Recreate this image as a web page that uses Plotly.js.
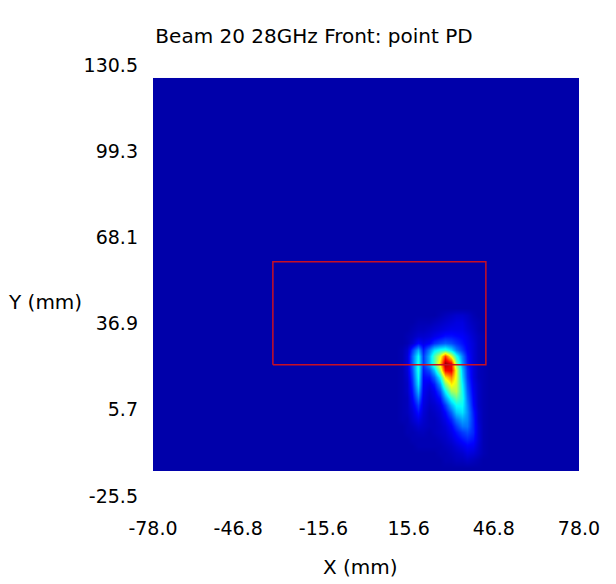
<!DOCTYPE html>
<html>
<head>
<meta charset="utf-8">
<script src="https://cdn.plot.ly/plotly-3.0.1.min.js"></script>
<style>html,body{margin:0;padding:0;background:#fff;}#chart{width:616px;height:584px;}</style>
</head>
<body>
<div id="chart"></div>
<script>
// ---- data ----
const xTickVals = [-78.0, -46.8, -15.6, 15.6, 46.8, 78.0];
const xTickText = ["-78.0", "-46.8", "-15.6", "15.6", "46.8", "78.0"];
const yTickVals = [-25.5, 5.7, 36.9, 68.1, 99.3, 130.5];
const yTickText = ["-25.5", "5.7", "36.9", "68.1", "99.3", "130.5"];

// heatmap grid (mm): outer columns/rows are background, inner ones cover the hot spot
const gridX = [-77.5, -76.5, 11, 13, 15, 17, 19, 21, 23, 25, 27, 29, 31, 33, 35, 37, 39, 41, 43, 45, 47, 76.5, 77.5];
const gridY = [-16.2, -15.4, -12.5, -10, -7.5, -5, -2.5, 0, 2.5, 5, 7.5, 10, 12.5, 15, 17.5, 20, 22.5, 25, 27.5, 30, 32.5, 35, 37.5, 40, 42.5, 125.2, 125.6];
const background = 0.03;
// hot spot values (normalised power density), rows y=-12.5 .. 40, columns x=13 .. 45
const hotRows = [
  [0.03,0.03,0.03,0.03,0.03,0.03,0.03,0.03,0.04,0.04,0.05,0.05,0.06,0.05,0.04,0.03,0.03],
  [0.03,0.03,0.03,0.03,0.03,0.03,0.03,0.04,0.04,0.05,0.06,0.07,0.09,0.08,0.06,0.04,0.03],
  [0.03,0.03,0.03,0.04,0.04,0.04,0.04,0.04,0.05,0.06,0.08,0.10,0.12,0.11,0.07,0.04,0.03],
  [0.03,0.03,0.04,0.04,0.04,0.04,0.04,0.05,0.06,0.08,0.11,0.14,0.16,0.14,0.08,0.04,0.03],
  [0.03,0.04,0.04,0.05,0.05,0.04,0.05,0.06,0.07,0.10,0.14,0.18,0.20,0.16,0.08,0.04,0.03],
  [0.03,0.04,0.05,0.07,0.06,0.05,0.05,0.06,0.08,0.12,0.18,0.24,0.24,0.16,0.08,0.04,0.03],
  [0.04,0.04,0.07,0.10,0.07,0.05,0.05,0.07,0.10,0.16,0.24,0.29,0.26,0.16,0.07,0.04,0.03],
  [0.04,0.05,0.08,0.14,0.08,0.05,0.06,0.08,0.13,0.22,0.32,0.35,0.27,0.15,0.07,0.04,0.03],
  [0.04,0.05,0.10,0.18,0.09,0.06,0.07,0.10,0.18,0.30,0.38,0.38,0.26,0.13,0.06,0.04,0.03],
  [0.04,0.05,0.12,0.24,0.10,0.07,0.09,0.14,0.27,0.40,0.47,0.40,0.24,0.12,0.06,0.04,0.03],
  [0.04,0.06,0.14,0.30,0.11,0.08,0.11,0.20,0.37,0.53,0.56,0.39,0.22,0.11,0.06,0.04,0.03],
  [0.04,0.06,0.16,0.35,0.12,0.10,0.15,0.28,0.50,0.64,0.58,0.37,0.20,0.10,0.06,0.04,0.03],
  [0.04,0.07,0.18,0.38,0.13,0.14,0.22,0.38,0.65,0.75,0.60,0.34,0.18,0.09,0.05,0.04,0.03],
  [0.04,0.08,0.20,0.40,0.15,0.20,0.32,0.55,0.88,0.90,0.60,0.32,0.17,0.09,0.05,0.04,0.03],
  [0.04,0.08,0.22,0.40,0.18,0.30,0.45,0.68,0.97,0.88,0.50,0.28,0.15,0.08,0.05,0.04,0.03],
  [0.04,0.08,0.22,0.38,0.18,0.30,0.45,0.60,0.82,0.60,0.40,0.25,0.14,0.08,0.05,0.04,0.03],
  [0.04,0.07,0.18,0.30,0.15,0.25,0.35,0.40,0.42,0.35,0.25,0.18,0.12,0.08,0.05,0.04,0.03],
  [0.03,0.04,0.07,0.13,0.10,0.12,0.17,0.20,0.22,0.20,0.17,0.14,0.11,0.08,0.05,0.04,0.03],
  [0.03,0.04,0.05,0.07,0.07,0.08,0.10,0.12,0.14,0.14,0.13,0.12,0.10,0.07,0.05,0.04,0.03],
  [0.03,0.03,0.04,0.05,0.05,0.06,0.07,0.08,0.09,0.10,0.10,0.10,0.08,0.06,0.04,0.03,0.03],
  [0.03,0.03,0.03,0.04,0.04,0.04,0.05,0.06,0.07,0.08,0.09,0.09,0.07,0.05,0.04,0.03,0.03],
  [0.03,0.03,0.03,0.03,0.03,0.03,0.03,0.04,0.05,0.06,0.07,0.07,0.06,0.04,0.03,0.03,0.03]
];
// red reference rectangle (mm)
const rectX = [-34.1, 43.9, 43.9, -34.1, -34.1];
const rectY = [22.0, 22.0, 59.3, 59.3, 22.0];

// ---- build the full matrix: background padding around the hot spot rows ----
const padCols = 3; // background columns on each side
const padRowsBelow = 2, padRowsAbove = 3;
const nCols = gridX.length;
const z = [];
for (let i = 0; i < padRowsBelow; i++) z.push(new Array(nCols).fill(background));
hotRows.forEach(r => {
  const row = [];
  for (let i = 0; i < padCols; i++) row.push(background);
  r.forEach(v => row.push(v));
  for (let i = 0; i < padCols; i++) row.push(background);
  z.push(row);
});
for (let i = 0; i < padRowsAbove; i++) z.push(new Array(nCols).fill(background));

const jet = [
  [0, 'rgb(0,0,143)'],
  [0.125, 'rgb(0,0,255)'],
  [0.375, 'rgb(0,255,255)'],
  [0.625, 'rgb(255,255,0)'],
  [0.875, 'rgb(255,0,0)'],
  [1, 'rgb(128,0,0)']
];

const FONT = 'DejaVu Sans, Verdana, sans-serif';

const traces = [
  {
    type: 'heatmap', x: gridX, y: gridY, z: z,
    zmin: 0, zmax: 1, colorscale: jet, zsmooth: 'best',
    showscale: false, hoverinfo: 'skip'
  },
  {
    type: 'scatter', mode: 'lines', x: rectX, y: rectY,
    line: { color: 'rgb(200,15,35)', width: 1.5 },
    hoverinfo: 'skip', showlegend: false
  }
];

const layout = {
  width: 616, height: 584,
  margin: { l: 153, r: 37, t: 65, b: 87.5, autoexpand: false },
  paper_bgcolor: '#fff', plot_bgcolor: '#fff',
  showlegend: false,
  font: { family: FONT, color: '#000', size: 19 },
  title: {
    text: 'Beam 20 28GHz Front: point PD',
    font: { family: FONT, size: 20, color: '#000' },
    xref: 'container', x: 314 / 616, xanchor: 'center',
    yref: 'container', y: 1 - 36 / 584, yanchor: 'middle'
  },
  xaxis: {
    range: [-78, 78], tickmode: 'array', tickvals: xTickVals, ticktext: xTickText,
    showgrid: false, zeroline: false, showline: false, ticks: '',
    ticklabelstandoff: 19, tickfont: { family: FONT, size: 19, color: '#000' },
    fixedrange: true
  },
  yaxis: {
    range: [-25.5, 130.5], tickmode: 'array', tickvals: yTickVals, ticktext: yTickText,
    showgrid: false, zeroline: false, showline: false, ticks: '',
    ticklabelstandoff: 14, tickfont: { family: FONT, size: 19, color: '#000' },
    fixedrange: true
  },
  annotations: [
    { text: 'X (mm)', xref: 'paper', yref: 'paper', x: (360 - 153) / 426, y: (496.5 - 568) / 431.5,
      xanchor: 'center', yanchor: 'middle', showarrow: false, font: { family: FONT, size: 20, color: '#000' } },
    { text: 'Y (mm)', xref: 'paper', yref: 'paper', x: (45 - 153) / 426, y: (496.5 - 302) / 431.5,
      xanchor: 'center', yanchor: 'middle', showarrow: false, font: { family: FONT, size: 20, color: '#000' } }
  ]
};

Plotly.newPlot('chart', traces, layout, { displayModeBar: false, staticPlot: true });
</script>
</body>
</html>
